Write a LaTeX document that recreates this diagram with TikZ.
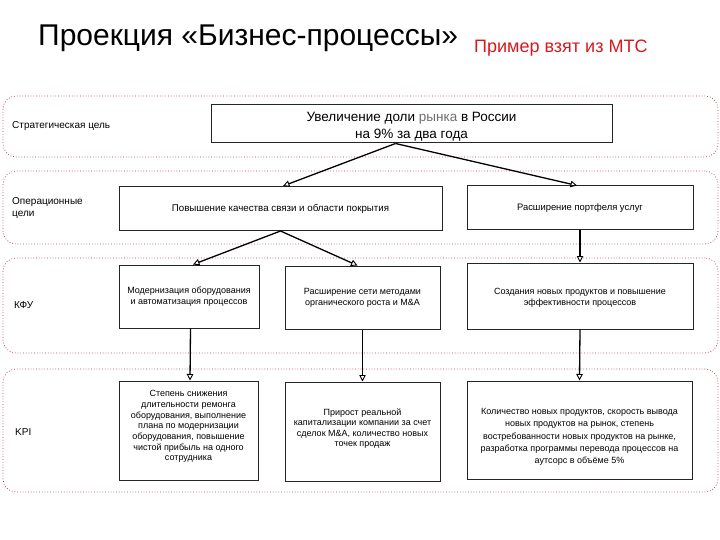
\documentclass[tikz,border=0pt]{standalone}
\usepackage{fontspec}
\setmainfont{Liberation Sans}
\usetikzlibrary{arrows.meta}
\definecolor{bandred}{RGB}{195,55,70}
\definecolor{titlered}{RGB}{215,25,30}
\definecolor{graytxt}{RGB}{110,110,110}
\begin{document}
\begin{tikzpicture}[x=1pt,y=-1pt,
  band/.style={draw=bandred, dotted, line width=0.75pt, rounded corners=13pt, minimum width=715pt, inner sep=0pt},
  box/.style={draw=black!85, line width=1pt, align=center, inner sep=2pt, font=\fontsize{9}{10.7}\selectfont},
  boxtext/.style={align=center, inner sep=0pt},
  lbl/.style={anchor=west, align=left, inner sep=0pt, font=\fontsize{10}{12}\selectfont},
  arr/.style={draw=black, line width=1.3pt, -{Triangle[open,length=6.5pt,width=6.5pt,line width=0.9pt]}}]
\useasboundingbox (0,0) rectangle (720,540);
\fill[white] (0,0) rectangle (720,540);
% title
\node[anchor=west, inner sep=0pt, font=\fontsize{30}{33}\selectfont] (title) at (38,38) {Проекция «Бизнес-процессы»};
\node[anchor=west, inner sep=0pt, text=titlered, font=\fontsize{18}{21}\selectfont] (src) at (474,48) {Пример взят из МТС};
% bands
\node[band, minimum height=61pt] (band1) at (360.5,126.5) {};
\node[band, minimum height=73pt] (band2) at (360.5,207.5) {};
\node[band, minimum height=95pt] (band3) at (360.5,305.5) {};
\node[band, minimum height=123pt] (band4) at (360.5,430.5) {};
% row labels
\node[lbl] (l1) at (12,126) {Стратегическая цель};
\node[lbl] (l2) at (12,208) {Операционные\\цели};
\node[lbl] (l3) at (14,305) {КФУ};
\node[lbl] (l4) at (15,432) {KPI};
% boxes
\node[box, minimum width=401pt, minimum height=38pt,
  label={[boxtext, yshift=-2.5pt, font=\fontsize{13.5}{17}\selectfont]center:Увеличение доли {\color{graytxt}рынка} в России\\на 9\% за два года}] (top) at (411.5,124) {};
\node[box, minimum width=323pt, minimum height=44pt, font=\fontsize{9.75}{11}\selectfont] (A) at (280.5,208.5) {Повышение качества связи и области покрытия};
\node[box, minimum width=226pt, minimum height=44pt, font=\fontsize{9.4}{11}\selectfont] (B) at (580,208) {Расширение портфеля услуг};
\node[box, minimum width=140pt, minimum height=63pt] (C) at (189,296.5) {Модернизация оборудования\\и автоматизация процессов};
\node[box, minimum width=155pt, minimum height=63pt] (D) at (362.5,297.5) {Расширение сети методами\\органического роста и M\&A};
\node[box, minimum width=226pt, minimum height=66pt,
  label={[boxtext, yshift=-2pt, font=\fontsize{9}{11.5}\selectfont]center:Создания новых продуктов и повышение\\эффективности процессов}] (E) at (580,296) {};
\node[box, minimum width=139pt, minimum height=99pt,
  label={[boxtext, yshift=4pt, font=\fontsize{9}{10.7}\selectfont]center:Степень снижения\\длительности ремонга\\оборудования, выполнение\\плана по модернизации\\оборудования, повышение\\чистой прибыль на одного\\сотрудника}] (F) at (188.5,430.5) {};
\node[box, minimum width=155pt, minimum height=99pt,
  label={[boxtext, yshift=3pt, font=\fontsize{9}{10.5}\selectfont]center:Прирост реальной\\капитализации компании за счет\\сделок M\&A, количество новых\\точек продаж}] (G) at (362.5,431.5) {};
\node[box, minimum width=225pt, minimum height=98pt,
  label={[boxtext, yshift=-7pt, font=\fontsize{9}{12.3}\selectfont]center:Количество новых продуктов, скорость вывода\\новых продуктов на рынок, степень\\востребованности новых продуктов на рынке,\\разработка программы перевода процессов на\\аутсорс в объёме 5\%}] (H) at (579.5,430) {};
% connectors
\draw[arr] ([xshift=-16pt]top.south) -- ([xshift=2.5pt]A.north);
\draw[arr] ([xshift=-16pt]top.south) -- ([xshift=-3pt]B.north);
\draw[arr] (A.south) -- ([xshift=4pt]C.north);
\draw[arr] (A.south) -- ([xshift=-5pt]D.north);
\draw[arr] (B.south) -- (E.north);
\draw[arr] ([xshift=1.5pt]C.south) -- ([xshift=1.5pt]F.north);
\draw[arr] (D.south) -- (G.north);
\draw[arr] (E.south) -- (H.north);
\end{tikzpicture}
\end{document}
